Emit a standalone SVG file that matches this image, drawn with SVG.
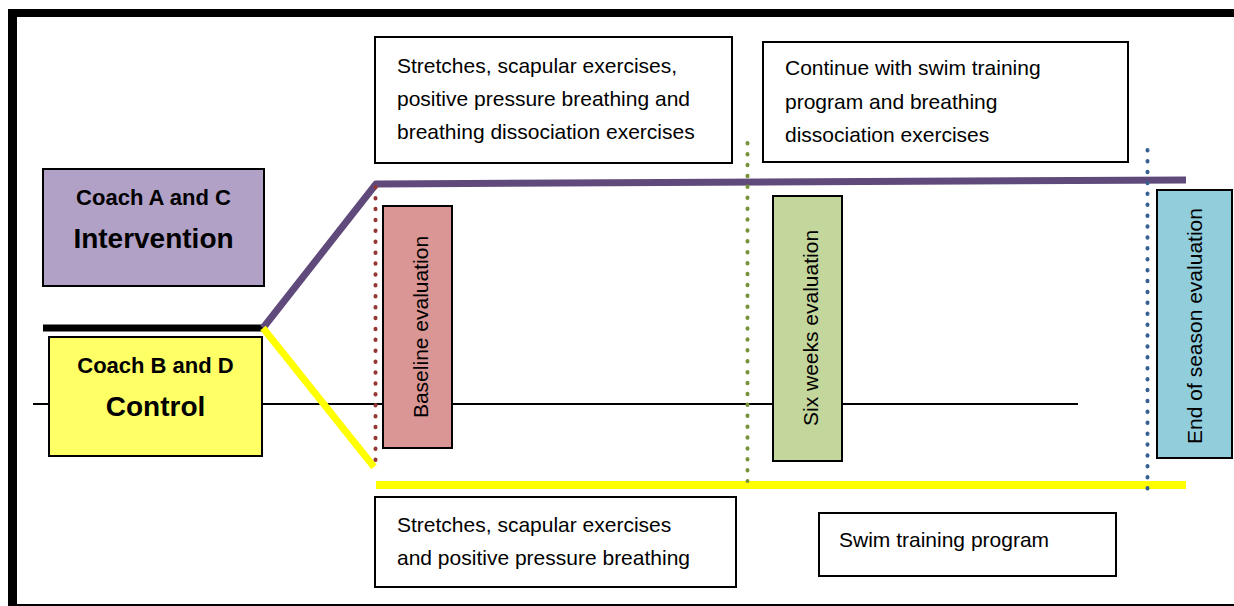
<svg xmlns="http://www.w3.org/2000/svg" width="1234" height="606" viewBox="0 0 1234 606">
<style>
.box{stroke:#000;stroke-width:2}
.t{font-family:"Liberation Sans",Arial,sans-serif;font-size:21px;fill:#000}
.b{font-family:"Liberation Sans",Arial,sans-serif;font-weight:bold;fill:#000;text-anchor:middle}
.dot{fill:none;stroke-width:4;stroke-linecap:round;stroke-dasharray:0.5 10.4}
</style>
<rect x="0" y="0" width="1234" height="606" fill="#fff"/>
<g id="frame">
<rect x="8" y="9" width="1226" height="8" fill="#000"/>
<rect x="8" y="9" width="9" height="597" fill="#000"/>
<rect x="8" y="604" width="1226" height="2" fill="#000"/>
</g>
<g id="connectors">
<line x1="33" y1="404" x2="1078" y2="404" stroke="#000" stroke-width="2"/>
<line x1="43" y1="328" x2="263" y2="328" stroke="#000" stroke-width="7"/>
<polyline points="263,328 376,184 1186,180" fill="none" stroke="#604a7b" stroke-width="7" stroke-linejoin="round"/>
<line x1="263" y1="328" x2="374" y2="467" stroke="#ffff00" stroke-width="7"/>
<line x1="376" y1="485" x2="1186" y2="485" stroke="#ffff00" stroke-width="8"/>
<line class="dot" x1="375.5" y1="187" x2="375.5" y2="465" stroke="#953735"/>
<line class="dot" x1="747.5" y1="143" x2="747.5" y2="481" stroke="#77933c"/>
<line class="dot" x1="1147.5" y1="150" x2="1147.5" y2="491" stroke="#376092"/>
</g>
<g id="intervention">
<rect class="box" x="43" y="169" width="221" height="117" fill="#b2a1c7"/>
<text class="b" x="153.5" y="205" font-size="22">Coach A and C</text>
<text class="b" x="153.5" y="248" font-size="28">Intervention</text>
</g>
<g id="control">
<rect class="box" x="49" y="337" width="213" height="119" fill="#ffff66"/>
<text class="b" x="155.5" y="373" font-size="22">Coach B and D</text>
<text class="b" x="155.5" y="416" font-size="28">Control</text>
</g>
<g id="baseline">
<rect class="box" x="383" y="206" width="69" height="242" fill="#d99694"/>
<text class="t" transform="translate(428,327) rotate(-90)" text-anchor="middle">Baseline evaluation</text>
</g>
<g id="sixweeks">
<rect class="box" x="773" y="196" width="69" height="265" fill="#c3d69b"/>
<text class="t" transform="translate(818,328) rotate(-90)" text-anchor="middle">Six weeks evaluation</text>
</g>
<g id="endseason">
<rect class="box" x="1157" y="190" width="75" height="268" fill="#92cddc"/>
<text class="t" transform="translate(1202,326) rotate(-90)" text-anchor="middle">End of season evaluation</text>
</g>
<g id="intervention-phase1">
<rect class="box" x="375" y="37" width="357" height="126" fill="#fff"/>
<text class="t" x="397" y="73">Stretches, scapular exercises,</text>
<text class="t" x="397" y="106">positive pressure breathing and</text>
<text class="t" x="397" y="139">breathing dissociation exercises</text>
</g>
<g id="intervention-phase2">
<rect class="box" x="763" y="42" width="365" height="120" fill="#fff"/>
<text class="t" x="785" y="75">Continue with swim training</text>
<text class="t" x="785" y="109">program and breathing</text>
<text class="t" x="785" y="142">dissociation exercises</text>
</g>
<g id="control-phase1">
<rect class="box" x="375" y="497" width="361" height="90" fill="#fff"/>
<text class="t" x="397" y="532">Stretches, scapular exercises</text>
<text class="t" x="397" y="565">and positive pressure breathing</text>
</g>
<g id="control-phase2">
<rect class="box" x="819" y="513" width="297" height="63" fill="#fff"/>
<text class="t" x="839" y="547">Swim training program</text>
</g>
</svg>
